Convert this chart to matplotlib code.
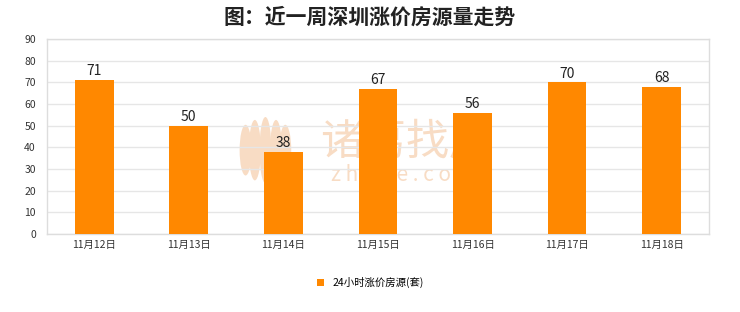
import matplotlib.pyplot as plt
from matplotlib.patches import Patch, Ellipse

plt.rcParams['font.family'] = ['Noto Sans CJK SC', 'DejaVu Sans']

# Data
dates = ['11月12日', '11月13日', '11月14日', '11月15日', '11月16日', '11月17日', '11月18日']
counts = [71, 50, 38, 67, 56, 70, 68]
series_name = '24小时涨价房源(套)'

bar_color = '#FF8800'
grid_color = '#E6E6E6'
text_color = '#333333'
wm_color = '#F8DCC4'

fig = plt.figure(figsize=(7.4, 3.12), dpi=100)
fig.patch.set_facecolor('white')
ax = fig.add_axes([0.0635, 0.25, 0.8945, 0.625])

x = range(len(dates))
bars = ax.bar(x, counts, width=0.41, color=bar_color, zorder=3)
for xi, v in zip(x, counts):
    ax.text(xi, v + 0.8, str(v), ha='center', va='bottom',
            fontsize=10, color='#222222', zorder=4)

ax.set_xlim(-0.5, len(dates) - 0.5)
ax.set_ylim(0, 90)
ax.set_yticks(range(0, 91, 10))
ax.set_xticks(list(x))
ax.set_xticklabels(dates)
ax.tick_params(axis='both', length=0, labelsize=7.5, colors=text_color)
ax.tick_params(axis='y', pad=8)
ax.tick_params(axis='x', pad=4)
ax.grid(axis='y', color=grid_color, linewidth=1, zorder=0)
for s in ax.spines.values():
    s.set_color('#DDDDDD')
    s.set_linewidth(1)

# Watermark (behind the bars)
ax.text(0.543, 0.47, '诸葛找房', transform=ax.transAxes, ha='center', va='center',
        fontsize=31, color=wm_color, zorder=1)
ax.text(0.537, 0.3, 'z h u g e . c o m', transform=ax.transAxes, ha='center',
        va='center', fontsize=15, color=wm_color, zorder=1)
# feather-like logo
for dx, h in [(-0.03, 0.26), (-0.016, 0.31), (0.0, 0.34), (0.016, 0.31), (0.03, 0.26)]:
    ax.add_patch(Ellipse((0.33 + dx, 0.43), 0.018, h, transform=ax.transAxes,
                         facecolor=wm_color, edgecolor='none', zorder=1))

# Title
fig.text(0.5, 0.945, '图：近一周深圳涨价房源量走势', ha='center', va='center',
         fontsize=15, fontweight='bold', color='#222222')

# Legend
fig.legend(handles=[Patch(facecolor=bar_color, edgecolor='none', label=series_name)],
           loc='center', bbox_to_anchor=(0.5, 0.095), frameon=False,
           fontsize=7.5, handlelength=0.7, handleheight=0.7, handletextpad=0.8)

fig.savefig('out.png', dpi=100, facecolor='white')
